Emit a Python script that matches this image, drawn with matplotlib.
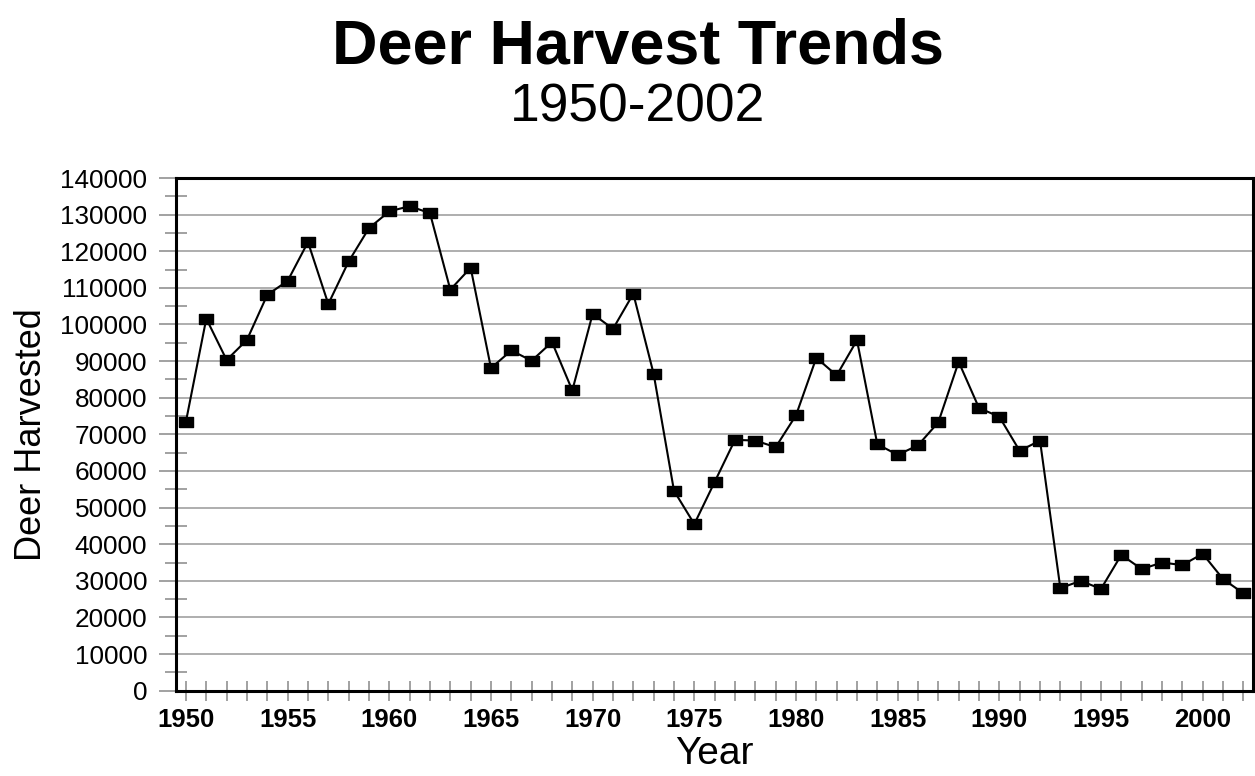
import matplotlib
matplotlib.use("Agg")
import matplotlib.pyplot as plt
from matplotlib.ticker import MultipleLocator, FixedLocator

plt.rcParams['font.family'] = ['Liberation Sans', 'DejaVu Sans']

years = list(range(1950, 2003))
harvest = [73500, 101600, 90300, 95800, 108100, 111900, 122500, 105600, 117200, 126300,
           130900, 132300, 130400, 109500, 115500, 88100, 92900, 90100, 95200, 82000,
           102900, 98800, 108400, 86500, 54600, 45500, 57000, 68500, 68300, 66500,
           75200, 90900, 86100, 95700, 67300, 64400, 67000, 73300, 89800, 77200,
           74800, 65500, 68300, 28000, 30000, 27800, 37100, 33200, 35000, 34300,
           37400, 30500, 26600]
label_years = [1950, 1955, 1960, 1965, 1970, 1975, 1980, 1985, 1990, 1995, 2000]

title = "Deer Harvest Trends"
subtitle = "1950-2002"
xlabel = "Year"
ylabel = "Deer Harvested"

fig = plt.figure(figsize=(12.55, 7.76), dpi=100)
ax = fig.add_axes([176/1255, 1-690.7/776, (1252.7-176)/1255, (690.7-178)/776])

rect = [(-1, -0.77), (1, -0.77), (1, 0.77), (-1, 0.77), (-1, -0.77)]
ax.plot(years, harvest, color='black', lw=1.5, marker=rect, markersize=9.4,
        markerfacecolor='black', markeredgecolor='black', zorder=3, clip_on=False)

ax.set_xlim(1949.51, 2002.46)
ax.set_ylim(0, 140000)

ax.yaxis.set_major_locator(MultipleLocator(10000))
ax.yaxis.set_minor_locator(MultipleLocator(5000))
ax.yaxis.set_major_formatter(matplotlib.ticker.FuncFormatter(lambda v, p: f"{int(v)}"))
ax.grid(axis='y', which='major', color='#999999', lw=1.1, zorder=0)

ax.xaxis.set_major_locator(FixedLocator(years))
ax.set_xticklabels([str(y) if y in label_years else '' for y in years])

ax.tick_params(axis='y', which='major', direction='out', length=12.2, width=1.1,
               color='#888888', labelsize=18.8, pad=8.5)
ax.tick_params(axis='y', which='minor', direction='inout', length=15.8, width=1.1,
               color='#888888')
ax.tick_params(axis='x', which='major', direction='inout', length=15, width=1.1,
               color='#888888', labelsize=18.5, pad=5)
for lab in ax.get_xticklabels():
    lab.set_fontweight('bold')

for s in ax.spines.values():
    s.set_linewidth(2.2)
    s.set_color('black')
    s.set_zorder(4)

ax.set_xlabel(xlabel, fontsize=28)
ax.set_ylabel(ylabel, fontsize=26)
ax.xaxis.set_label_coords(0.5, -0.088)
ax.xaxis.label.set_va('top')
ax.yaxis.set_label_coords(-0.1175, 0.5)

fig.text(637.5/1255, 1-63/776, title, fontsize=45.3, fontweight='bold',
         ha='center', va='baseline')
fig.text(637.5/1255, 1-122/776, subtitle, fontsize=38.4, ha='center', va='baseline')

fig.savefig('out.png', dpi=100)
